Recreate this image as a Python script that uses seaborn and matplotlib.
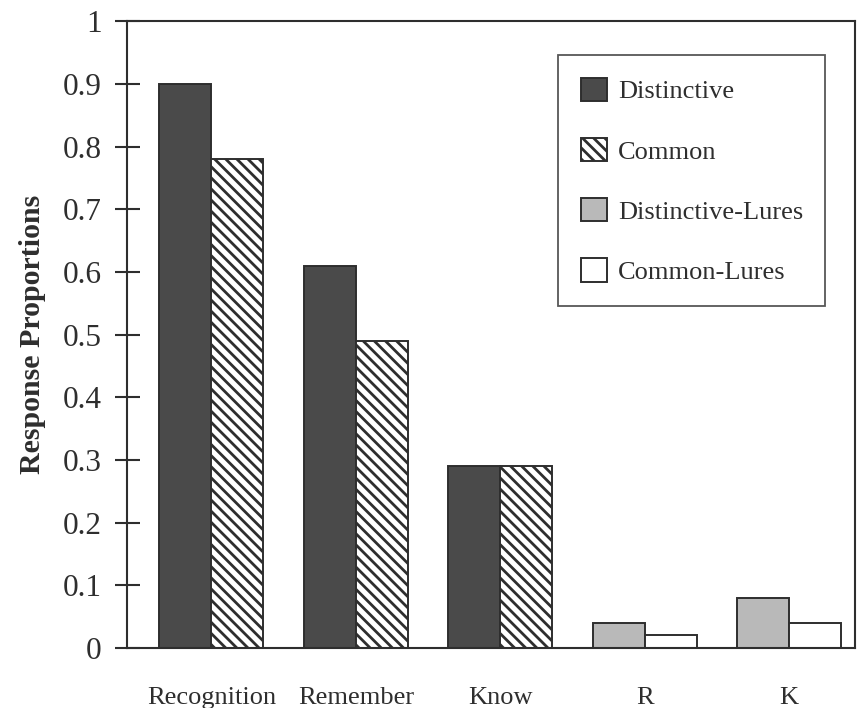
import pandas as pd
import numpy as np
import matplotlib
matplotlib.use("Agg")
import matplotlib.pyplot as plt
from matplotlib.patches import Patch
import seaborn as sns

categories = ["Recognition", "Remember", "Know", "R", "K"]
first_values = [0.90, 0.61, 0.29, 0.04, 0.08]
second_values = [0.78, 0.49, 0.29, 0.02, 0.04]
first_cond = ["Distinctive", "Distinctive", "Distinctive", "Distinctive-Lures", "Distinctive-Lures"]
second_cond = ["Common", "Common", "Common", "Common-Lures", "Common-Lures"]
legend_order = ["Distinctive", "Common", "Distinctive-Lures", "Common-Lures"]
y_ticks = [0, 0.1, 0.2, 0.3, 0.4, 0.5, 0.6, 0.7, 0.8, 0.9, 1]
y_tick_labels = ["0", "0.1", "0.2", "0.3", "0.4", "0.5", "0.6", "0.7", "0.8", "0.9", "1"]

ink = "#2e2e2e"
styles = {
    "Distinctive": dict(facecolor="#4a4a4a", hatch=None),
    "Common": dict(facecolor="white", hatch="\\\\\\"),
    "Distinctive-Lures": dict(facecolor="#b9b9b9", hatch=None),
    "Common-Lures": dict(facecolor="white", hatch=None),
}

df = pd.DataFrame({
    "category": categories * 2,
    "slot": ["first"] * 5 + ["second"] * 5,
    "value": first_values + second_values,
})

sns.set_style("white")
plt.rcParams["font.family"] = ["Liberation Serif", "DejaVu Serif"]
plt.rcParams["hatch.linewidth"] = 2.0
plt.rcParams["hatch.color"] = ink

fig = plt.figure(figsize=(8.57, 7.08), dpi=100)
ax = fig.add_axes([0.148, 0.085, 0.85, 0.885])

sns.barplot(
    data=df, x="category", y="value", hue="slot",
    order=categories, hue_order=["first", "second"],
    palette=["#4a4a4a", "white"], width=0.72,
    edgecolor=ink, linewidth=1.4, legend=False, ax=ax
)

# restyle each bar by the condition it stands for
conds = [first_cond, second_cond]
for container, cond_list in zip(ax.containers, conds):
    for bar, cond in zip(container, cond_list):
        st = styles[cond]
        bar.set_facecolor(st["facecolor"])
        bar.set_edgecolor(ink)
        if st["hatch"]:
            bar.set_hatch(st["hatch"])

ax.set_xlim(-0.586, 4.459)
ax.set_ylim(0, 1)
ax.set_yticks(y_ticks)
ax.set_yticklabels(y_tick_labels, fontsize=22.5, color=ink)
ax.tick_params(axis="y", left=True, direction="inout", length=18, width=1.5, color=ink, pad=9)
ax.tick_params(axis="x", bottom=False, length=0, pad=28, labelsize=19, labelcolor=ink)
ax.set_xlabel("")
ax.set_ylabel("Response Proportions", fontsize=21.5, fontweight="bold", color=ink, labelpad=12)

for sp in ax.spines.values():
    sp.set_visible(True)
    sp.set_color(ink)
    sp.set_linewidth(1.5)

handles = [
    Patch(facecolor=styles[c]["facecolor"], edgecolor=ink, linewidth=1.4,
          hatch=styles[c]["hatch"], label=c)
    for c in legend_order
]
leg = ax.legend(
    handles=handles, loc="upper right", bbox_to_anchor=(0.959, 0.946),
    fontsize=19, frameon=True, fancybox=False, edgecolor=ink,
    handlelength=1.0, handleheight=1.0, handletextpad=0.4,
    labelspacing=1.3, borderpad=0.85, borderaxespad=0
)
leg.get_frame().set_linewidth(1.3)
for t in leg.get_texts():
    t.set_color(ink)

fig.savefig("out.png", dpi=100)
